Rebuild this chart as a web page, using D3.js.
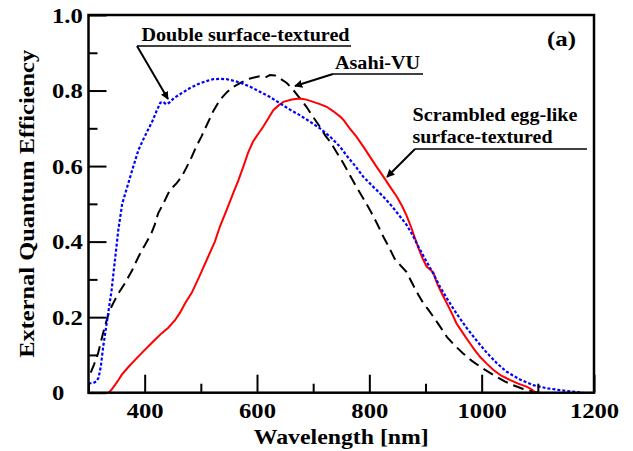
<!DOCTYPE html>
<html>
<head>
<meta charset="utf-8">
<script src="https://cdn.jsdelivr.net/npm/d3@7"></script>
<style>
body { margin: 0; background: #fff; }
svg { display: block; font-family: "Liberation Serif", "Times New Roman", serif; font-weight: bold; }
</style>
</head>
<body>
<div id="chart"></div>
<script>
// wavelength [nm] and EQE for each cell
var doubleX = [300,308,314,318,322,326,330,335,341,347,353,360,368,378,389,398,406,414,421,428,433,438,444,452,466,480,495,510,522,534,546,558,570,588,605,623,641,658,676,694,712,730,748,760,775,789,807,825,840,855,866,876,888,900,914,926,938,955,973,991,1009,1027,1044,1068,1092,1115,1139,1160,1180];
var doubleY = [0.025,0.025,0.03,0.04,0.07,0.12,0.16,0.21,0.27,0.35,0.43,0.50,0.54,0.59,0.643,0.672,0.696,0.72,0.745,0.768,0.77,0.764,0.768,0.78,0.793,0.806,0.817,0.825,0.830,0.831,0.830,0.826,0.821,0.81,0.797,0.783,0.766,0.75,0.735,0.718,0.70,0.678,0.651,0.627,0.60,0.572,0.545,0.519,0.494,0.466,0.445,0.42,0.385,0.352,0.315,0.28,0.25,0.21,0.172,0.138,0.106,0.078,0.056,0.035,0.02,0.012,0.007,0.003,0];

var asahiX = [304,310,317,323,329,335,341,352,365,377,389,400,412,418,424,433,442,448,457,466,475,484,492,501,511,522,534,546,558,573,588,605,615,623,632,641,653,665,676,688,700,712,722,730,742,754,765,777,789,801,813,825,835,845,855,866,878,887,896,905,914,926,938,952,967,982,997,1012,1027,1041,1056,1074,1092,1100];
var asahiY = [0.053,0.075,0.104,0.14,0.175,0.205,0.228,0.26,0.29,0.322,0.36,0.39,0.422,0.445,0.475,0.50,0.528,0.541,0.555,0.572,0.598,0.625,0.652,0.678,0.71,0.745,0.775,0.795,0.81,0.822,0.832,0.838,0.835,0.841,0.84,0.832,0.82,0.801,0.78,0.757,0.73,0.704,0.68,0.665,0.636,0.607,0.577,0.545,0.515,0.484,0.45,0.413,0.385,0.355,0.338,0.32,0.285,0.26,0.237,0.22,0.201,0.175,0.148,0.125,0.104,0.085,0.069,0.055,0.042,0.03,0.02,0.01,0.003,0];

var eggX = [336,341,347,353,359,371,383,398,412,421,430,442,454,463,472,484,495,504,513,525,534,546,558,567,576,584,593,602,611,620,629,638,647,662,676,688,700,712,724,736,748,754,765,777,789,801,813,825,837,849,858,866,874,881,887,895,902,909,914,918,922,930,938,947,955,967,979,988,997,1009,1021,1035,1050,1065,1080,1090,1095];
var eggY = [0,0.008,0.02,0.033,0.047,0.068,0.087,0.11,0.131,0.144,0.157,0.172,0.192,0.212,0.237,0.265,0.30,0.33,0.36,0.40,0.44,0.484,0.53,0.563,0.60,0.635,0.665,0.685,0.704,0.726,0.748,0.76,0.77,0.776,0.779,0.776,0.77,0.764,0.757,0.745,0.731,0.722,0.70,0.678,0.652,0.625,0.598,0.572,0.545,0.519,0.495,0.47,0.44,0.41,0.385,0.355,0.334,0.325,0.318,0.30,0.285,0.26,0.237,0.21,0.184,0.157,0.131,0.112,0.095,0.077,0.06,0.045,0.034,0.024,0.016,0.008,0];

var xMajor = [400,600,800,1000,1200];
var xMinor = [300,500,700,900,1100];
var yMajor = [0,0.2,0.4,0.6,0.8,1.0];
var yMinor = [0.1,0.3,0.5,0.7,0.9];

var width = 633, height = 451;
var padL = 88.5, padR = 594, padT = 15, padB = 392.7;

var x = d3.scaleLinear().domain([300,1200]).range([padL,padR]);
var y = d3.scaleLinear().domain([0,1]).range([padB,padT]);

var svg = d3.select("#chart").append("svg")
    .attr("width", width)
    .attr("height", height);

svg.append("defs").append("marker")
    .attr("id", "head")
    .attr("viewBox", "0 0 10 10")
    .attr("refX", 9).attr("refY", 5)
    .attr("markerWidth", 8).attr("markerHeight", 8)
    .attr("markerUnits", "userSpaceOnUse")
    .attr("orient", "auto")
  .append("path")
    .attr("d", "M0,0 L10,5 L0,10 Z")
    .attr("fill", "#000");

// curves
function curve(xs, ys) {
    return d3.line()
        .x(function(d, i) { return x(xs[i]); })
        .y(function(d, i) { return y(ys[i]); })(xs);
}

var plot = svg.append("g");
plot.append("path")
    .attr("d", curve(asahiX, asahiY))
    .attr("fill", "none").attr("stroke", "#000")
    .attr("stroke-width", 2).attr("stroke-dasharray", "11,6");
plot.append("path")
    .attr("d", curve(eggX, eggY))
    .attr("fill", "none").attr("stroke", "#ff0000")
    .attr("stroke-width", 2);
plot.append("path")
    .attr("d", curve(doubleX, doubleY))
    .attr("fill", "none").attr("stroke", "#0000ff")
    .attr("stroke-width", 2.2).attr("stroke-dasharray", "3,2");

// axes
var xAxis = svg.append("g").attr("transform", "translate(0," + padB + ")");
xAxis.call(d3.axisBottom(x).tickValues(xMajor).tickSize(-18).tickPadding(9.5).tickFormat(d3.format("d")));
var xAxisMinor = svg.append("g").attr("transform", "translate(0," + padB + ")");
xAxisMinor.call(d3.axisBottom(x).tickValues(xMinor).tickSize(-9).tickFormat(""));

var yAxis = svg.append("g").attr("transform", "translate(" + padL + ",0)");
yAxis.call(d3.axisLeft(y).tickValues(yMajor).tickSize(-18)
    .tickFormat(function(d) { return d === 0 ? "0" : d3.format(".1f")(d); }));
yAxis.selectAll("text").attr("x", 52 - padL).attr("text-anchor", "start");
var yAxisMinor = svg.append("g").attr("transform", "translate(" + padL + ",0)");
yAxisMinor.call(d3.axisLeft(y).tickValues(yMinor).tickSize(-9).tickFormat(""));

svg.selectAll(".domain").remove();
svg.selectAll(".tick line").attr("stroke", "#000").attr("stroke-width", 2);
svg.selectAll(".tick text")
    .attr("fill", "#000")
    .style("font-family", "'Liberation Serif', serif")
    .style("font-weight", "bold")
    .style("font-size", "22px");
// reference glyphs are a little wider than Liberation Serif
svg.selectAll(".tick text").each(function() {
    var t = d3.select(this);
    var w = this.getComputedTextLength();
    if (w > 0) t.attr("textLength", w * 1.12).attr("lengthAdjust", "spacingAndGlyphs");
});

svg.append("rect")
    .attr("x", padL).attr("y", padT)
    .attr("width", padR - padL).attr("height", padB - padT)
    .attr("fill", "none").attr("stroke", "#000").attr("stroke-width", 2.5);

function label(g, px, py, txt, size, len, anchor) {
    return g.append("text")
        .attr("x", px).attr("y", py)
        .attr("text-anchor", anchor || "start")
        .attr("textLength", len).attr("lengthAdjust", "spacingAndGlyphs")
        .style("font-size", size + "px")
        .text(txt);
}

// axis titles
label(svg, (padL + padR) / 2, 444, "Wavelength [nm]", 22, 175, "middle");
label(svg.append("g").attr("transform", "translate(34," + (padT + padB) / 2 + ") rotate(-90)"),
    0, 0, "External Quantum Efficiency", 22, 308, "middle");
label(svg, 547, 46, "(a)", 22, 29);

// labels with underline and arrow
var notes = svg.append("g");

label(notes, 141.5, 41, "Double surface-textured", 18.5, 208);
notes.append("line").attr("x1", 137).attr("y1", 46).attr("x2", 351).attr("y2", 46)
    .attr("stroke", "#000").attr("stroke-width", 1.5);
notes.append("line").attr("x1", 137).attr("y1", 46).attr("x2", 168).attr("y2", 99)
    .attr("stroke", "#000").attr("stroke-width", 2).attr("marker-end", "url(#head)");

label(notes, 335, 69, "Asahi-VU", 18.5, 85);
notes.append("line").attr("x1", 333).attr("y1", 74).attr("x2", 423).attr("y2", 74)
    .attr("stroke", "#000").attr("stroke-width", 1.5);
notes.append("line").attr("x1", 333).attr("y1", 74).attr("x2", 295).attr("y2", 86)
    .attr("stroke", "#000").attr("stroke-width", 2).attr("marker-end", "url(#head)");

label(notes, 412.5, 121, "Scrambled egg-like", 18.5, 165);
label(notes, 412.5, 143, "surface-textured", 18.5, 140);
notes.append("line").attr("x1", 415).attr("y1", 149).attr("x2", 587).attr("y2", 149)
    .attr("stroke", "#000").attr("stroke-width", 1.5);
notes.append("line").attr("x1", 415).attr("y1", 149).attr("x2", 387).attr("y2", 177)
    .attr("stroke", "#000").attr("stroke-width", 2).attr("marker-end", "url(#head)");
</script>
</body>
</html>
